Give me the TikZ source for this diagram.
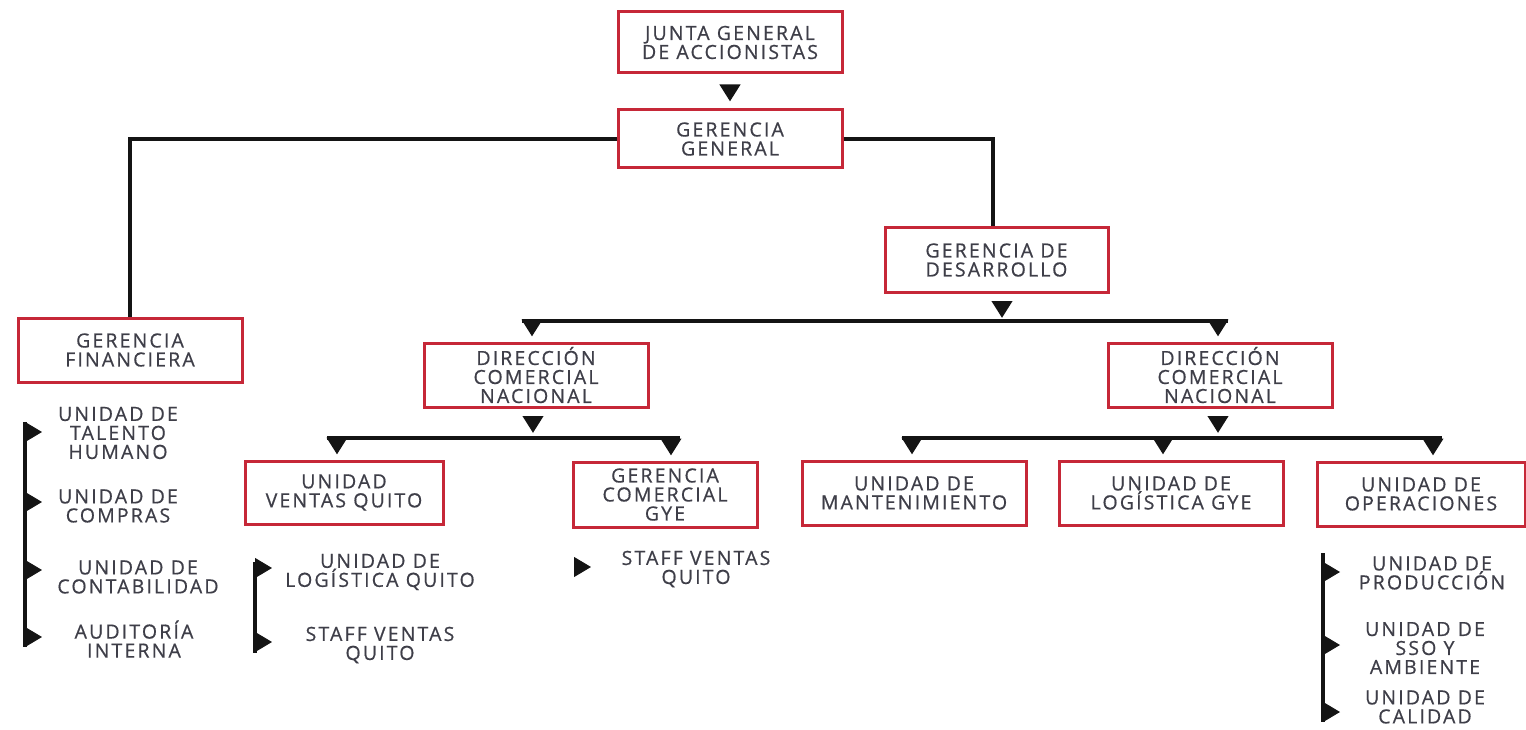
\documentclass[tikz,border=0pt]{standalone}
\usepackage{fontspec}
\setmainfont{Open Sans}[LetterSpace=11, FakeBold=0.6]
\usepackage{xcolor}
\usepackage{tikz}
\definecolor{boxred}{RGB}{198, 40, 56}
\definecolor{labelgray}{RGB}{62, 62, 72}
\usetikzlibrary{arrows.meta, positioning, calc}

\begin{document}
\begin{tikzpicture}[
    x=1pt, y=-1pt,
    font=\fontsize{19.5}{19}\selectfont,
    unit/.style={rectangle, draw=boxred, line width=3pt, fill=white, text=labelgray, align=center, minimum width=224pt, minimum height=64pt, inner sep=0pt},
    item/.style={text=labelgray, align=center, inner sep=0pt},
    bar/.style={line width=4pt, black!92},
    tip/.style={line width=4pt, black!92, -{Triangle[width=20pt, length=17pt]}},
    sidetip/.style={line width=1pt, black!92, -{Triangle[width=20pt, length=17pt]}}
]
    \useasboundingbox (0,0) rectangle (1526,730);

    % boxes
    \node[unit, minimum height=61pt] (junta) at (730,42.5) {JUNTA GENERAL\\DE ACCIONISTAS};
    \node[unit, minimum height=58pt] (gg) at (730,139) {GERENCIA\\GENERAL};
    \node[unit] (gf) at (130,350) {GERENCIA\\FINANCIERA};
    \node[unit, minimum width=223pt] (gd) at (996.5,260) {GERENCIA DE\\DESARROLLO};
    \node[unit] (dcn-a) at (536,375) {DIRECCIÓN\\COMERCIAL\\NACIONAL};
    \node[unit] (dcn-b) at (1220,375) {DIRECCIÓN\\COMERCIAL\\NACIONAL};
    \node[unit, minimum width=198pt, minimum height=63pt] (uvq) at (344,492.5) {UNIDAD\\VENTAS QUITO};
    \node[unit, minimum width=184pt, minimum height=65pt] (gcg) at (665,494.5) {GERENCIA\\COMERCIAL\\GYE};
    \node[unit] (um) at (914,493) {UNIDAD DE\\MANTENIMIENTO};
    \node[unit] (ulg) at (1171,493) {UNIDAD DE\\LOGÍSTICA GYE};
    \node[unit, minimum width=208pt] (uo) at (1421,494) {UNIDAD DE\\OPERACIONES};

    % units listed under the boxes
    \node[item] (talento) at (118,433) {UNIDAD DE\\TALENTO\\HUMANO};
    \node[item] (compras) at (118,506) {UNIDAD DE\\COMPRAS};
    \node[item] (conta) at (138,577) {UNIDAD DE\\CONTABILIDAD};
    \node[item] (audit) at (134,639) {AUDITORÍA\\INTERNA};
    \node[item] (logq) at (380,572) {UNIDAD DE\\LOGÍSTICA QUITO};
    \node[item] (staff-a) at (380,645) {STAFF VENTAS\\QUITO};
    \node[item] (staff-b) at (696,569) {STAFF VENTAS\\QUITO};
    \node[item] (prod) at (1432,573) {UNIDAD DE\\PRODUCCIÓN};
    \node[item] (sso) at (1425,648) {UNIDAD DE\\SSO Y\\AMBIENTE};
    \node[item] (calidad) at (1425,707) {UNIDAD DE\\CALIDAD};

    \coordinate (j1) at (0,321);
    \coordinate (j2) at (0,438);

    % top levels
    \draw[tip, shorten <=13pt, shorten >=7pt] (junta) -- (gg);
    \draw[bar] (gg.west) -| (gf.north);
    \draw[bar] (gg.east) -| ([xshift=-3.5pt]gd.north);

    % desarrollo
    \draw[tip, shorten <=9pt, shorten >=3pt] ([xshift=5.5pt]gd.south) -- ([xshift=5.5pt]gd.south |- j1);
    \draw[bar] ([xshift=-14pt]dcn-a.north |- j1) -- ([xshift=8pt]dcn-b.north |- j1);
    \draw[tip, shorten >=5pt] ([xshift=-4pt]dcn-a.north |- j1) -- ([xshift=-4pt]dcn-a.north);
    \draw[tip, shorten >=5pt] ([xshift=-2pt]dcn-b.north |- j1) -- ([xshift=-2pt]dcn-b.north);

    % direccion comercial (left)
    \draw[tip, shorten <=9pt, shorten >=5pt] ([xshift=-3pt]dcn-a.south) -- ([xshift=-3pt]dcn-a.south |- j2);
    \draw[bar] ([xshift=-17pt]uvq.north |- j2) -- ([xshift=15pt]gcg.north |- j2);
    \draw[tip, shorten >=5pt] ([xshift=-7pt]uvq.north |- j2) -- ([xshift=-7pt]uvq.north);
    \draw[tip, shorten >=5pt] ([xshift=6pt]gcg.north |- j2) -- ([xshift=6pt]gcg.north);

    % direccion comercial (right)
    \draw[tip, shorten <=9pt, shorten >=5pt] ([xshift=-2pt]dcn-b.south) -- ([xshift=-2pt]dcn-b.south |- j2);
    \draw[bar] ([xshift=-12pt]um.north |- j2) -- ([xshift=21pt]uo.north |- j2);
    \draw[tip, shorten >=5pt] ([xshift=-2pt]um.north |- j2) -- ([xshift=-2pt]um.north);
    \draw[tip, shorten >=5pt] ([xshift=-8pt]ulg.north |- j2) -- ([xshift=-8pt]ulg.north);
    \draw[tip, shorten >=5pt] ([xshift=12pt]uo.north |- j2) -- ([xshift=12pt]uo.north);

    % side rails
    \coordinate (fin-top) at (25,422);
    \coordinate (fin-bot) at (25,647);
    \draw[bar] (fin-top) -- (fin-bot);
    \foreach \y in {432,502,570,637}
        \draw[sidetip] (fin-top |- 0,\y) -- ++(17,0);

    \coordinate (vq-top) at (255,562);
    \coordinate (vq-bot) at (255,653);
    \draw[bar] (vq-top) -- (vq-bot);
    \foreach \y in {568,642}
        \draw[sidetip] (vq-top |- 0,\y) -- ++(17,0);

    \coordinate (gye-tip) at (574,567);
    \draw[sidetip] (gye-tip) -- ++(17,0);

    \coordinate (op-top) at (1323,553);
    \coordinate (op-bot) at (1323,722);
    \draw[bar] (op-top) -- (op-bot);
    \foreach \y in {572,645,712}
        \draw[sidetip] (op-top |- 0,\y) -- ++(17,0);
\end{tikzpicture}
\end{document}
